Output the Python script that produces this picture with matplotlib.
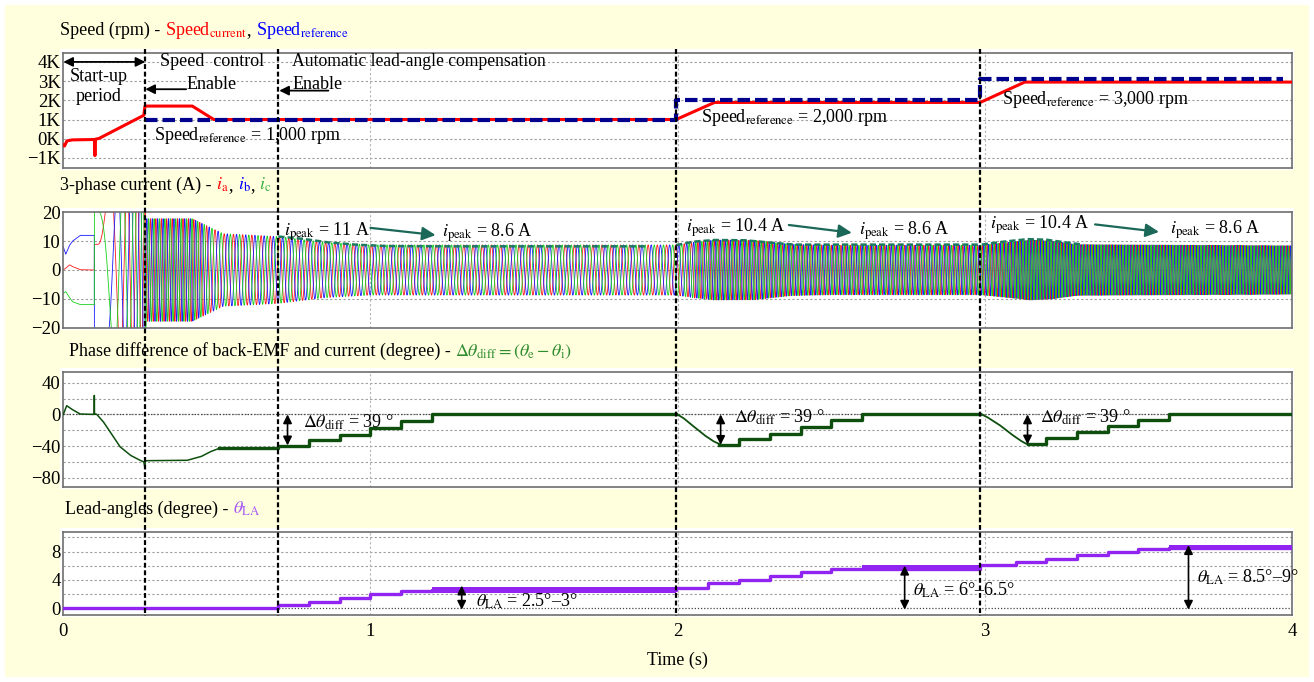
import numpy as np
import matplotlib
matplotlib.use("Agg")
import matplotlib.pyplot as plt
from matplotlib import transforms
from matplotlib.patches import Rectangle
from matplotlib.lines import Line2D

plt.rcParams["font.family"] = ["Liberation Serif", "DejaVu Serif"]
plt.rcParams["mathtext.fontset"] = "stix"
plt.rcParams["axes.unicode_minus"] = True

# ---------------- data ----------------
event_t = [0.267, 0.70, 1.995, 2.985]          # dashed event markers (s)

# speed (rpm)
speed_cur_t = [0.0, 0.004, 0.012, 0.03, 0.1025, 0.103, 0.1035, 0.117, 0.262, 0.266,
               0.42, 0.49, 1.995, 2.12, 2.985, 3.13, 4.0]
speed_cur_v = [-330, -380, -110, -60, -40, -880, -30, 20, 1220, 1700,
               1700, 1000, 1000, 1890, 1890, 2950, 2950]
speed_ref_t = [0.267, 1.995, 1.995, 2.985, 2.985, 3.97]
speed_ref_v = [1000, 1000, 2000, 2000, 3085, 3085]
speed_ticks = [-1000, 0, 1000, 2000, 3000, 4000]
speed_ticklabels = ["−1K", "0K", "1K", "2K", "3K", "4K"]

# 3-phase current (A)
pole_pairs = 2
dc_t = [0.0, 0.008, 0.02, 0.03, 0.055, 0.101]
ia_dc = [0.0, 0.6, 1.8, 1.2, 0.1, 0.0]
ib_dc = [8.0, 5.5, 8.5, 10.0, 12.0, 12.0]
ic_dc = [-8.0, -7.5, -9.5, -11.0, -12.0, -12.0]
env_t = [0.101, 0.266, 0.27, 0.42, 0.52, 0.70, 0.85, 1.0, 1.995, 2.05, 2.12,
         2.25, 2.37, 2.5, 2.985, 3.08, 3.15, 3.22, 3.30, 4.0]
env_A = [30, 30, 17.8, 17.8, 12.6, 11.6, 9.6, 8.7, 8.7, 9.6, 10.4,
         10.3, 8.9, 8.6, 8.6, 9.6, 10.4, 10.0, 8.8, 8.4]
env_dash1_t = [0.70, 0.78, 0.86, 0.95, 1.05, 1.25, 1.90]
env_dash1_v = [11.6, 10.8, 9.6, 8.8, 8.3, 8.2, 8.2]
env_dash2_t = [1.995, 2.05, 2.12, 2.22, 2.30, 2.38, 2.98]
env_dash2_v = [8.6, 9.8, 10.4, 10.3, 9.5, 8.8, 8.8]
env_dash3_t = [2.99, 3.06, 3.14, 3.20, 3.26, 3.32]
env_dash3_v = [8.8, 9.8, 10.7, 10.5, 9.6, 8.8]
cur_ticks = [-20, -10, 0, 10, 20]
cur_ticklabels = ["−20", "−10", "0", "10", "20"]

# phase difference (degree)
pd_start_t = [0.0, 0.011, 0.03, 0.055, 0.1, 0.1005, 0.101, 0.1015, 0.109, 0.131, 0.153,
              0.185, 0.22, 0.25, 0.262, 0.265, 0.268, 0.404, 0.45, 0.48, 0.507]
pd_start_v = [0.0, 11.0, 6.0, 0.5, 0.0, 0.0, 24.0, 1.0, 0.0, -9.7, -22.4,
              -41.0, -52.0, -58.0, -60.0, -66.0, -58.5, -58.0, -53.0, -47.0, -43.0]
pd_steps1_t = [0.507, 0.70, 0.80, 0.90, 1.0, 1.1, 1.2, 1.995]
pd_steps1_v = [-43.0, -39.5, -32.0, -26.0, -17.0, -8.0, 1.0]
pd_dip2_t = [1.995, 2.02, 2.05, 2.09, 2.117, 2.136]
pd_dip2_v = [1.0, -5.0, -14.6, -27.0, -34.0, -37.5]
pd_steps2_t = [2.136, 2.2, 2.3, 2.4, 2.5, 2.6, 2.985]
pd_steps2_v = [-38.5, -31.0, -25.0, -16.0, -7.0, 1.0]
pd_dip3_t = [2.985, 3.01, 3.05, 3.09, 3.12, 3.139]
pd_dip3_v = [1.0, -4.0, -14.0, -26.0, -34.0, -38.0]
pd_steps3_t = [3.139, 3.2, 3.3, 3.4, 3.5, 3.6, 4.0]
pd_steps3_v = [-38.0, -30.0, -22.0, -14.5, -6.7, 0.5]
pd_ticks = [-80, -40, 0, 40]
pd_ticklabels = ["−80", "−40", "0", "40"]

# lead angle (degree)
la_t = [0, 0.70, 0.80, 0.90, 1.0, 1.1, 1.2, 1.995, 2.1, 2.2, 2.3, 2.4, 2.5, 2.6,
        2.985, 3.1, 3.2, 3.3, 3.4, 3.5, 3.6, 4.0]
la_v = [0, 0.4, 0.9, 1.5, 1.95, 2.4, 2.6, 2.9, 3.5, 4.0, 4.5, 5.1, 5.5, 5.6,
        6.05, 6.5, 7.0, 7.5, 7.95, 8.35, 8.5]
la_band_t0 = [1.2, 2.6, 3.6]
la_band_t1 = [1.995, 2.985, 4.0]
la_band_lo = [2.2, 5.2, 8.15]
la_band_hi = [3.0, 6.05, 8.9]
la_ticks = [0, 4, 8]
la_ticklabels = ["0", "4", "8"]

time_ticks = [0, 1, 2, 3, 4]

# ---------------- figure ----------------
W, H, DPI = 1314, 682, 100
FS = 13        # annotation / tick size
fig = plt.figure(figsize=(W / DPI, H / DPI), dpi=DPI)
fig.patch.set_facecolor("white")
fig.add_artist(Rectangle((5 / W, 5 / H), (W - 10) / W, (H - 10) / H,
                         transform=fig.transFigure, fc="#FFFFDE", ec="none", zorder=-10))


def px_axes(left, top, right, bottom):
    fig.add_artist(Rectangle(((left - 3) / W, 1 - (bottom + 2) / H), (right - left + 5) / W,
                             (bottom - top + 6) / H, transform=fig.transFigure,
                             fc="white", ec="none", zorder=-5))
    return fig.add_axes([left / W, 1 - bottom / H, (right - left) / W, (bottom - top) / H])


ax1 = px_axes(63.3, 52.7, 1292, 168.3)
ax2 = px_axes(63.3, 212.3, 1292, 327.7)
ax3 = px_axes(63.3, 371.7, 1292, 486.7)
ax4 = px_axes(63.3, 531.7, 1292, 615)

GRID = dict(color="#9c9c9c", lw=0.8, ls=(0, (2, 2)), zorder=0.5)


def style(ax, ylim, ticks, labels, grid_y):
    ax.set_xlim(0, 4)
    ax.set_ylim(*ylim)
    ax.set_xticks(time_ticks)
    ax.set_yticks(ticks)
    ax.set_yticklabels(labels)
    ax.tick_params(length=0, labelsize=FS + 0.5, pad=2)
    ax.tick_params(axis="x", pad=6)
    for y in grid_y:
        ax.axhline(y, **GRID)
    for x in time_ticks[1:-1]:
        ax.axvline(x, color="#b4b4b4", lw=0.8, ls=(0, (2, 2)), zorder=0.5)
    for sp in ax.spines.values():
        sp.set_color("#6e6e6e")
        sp.set_linewidth(1.2)


style(ax1, (-1540, 4480), speed_ticks, speed_ticklabels, speed_ticks)
style(ax2, (-20, 20), cur_ticks, cur_ticklabels, [-10, 0, 10])
style(ax3, (-91.4, 54), pd_ticks, pd_ticklabels, [40, 20, 0, -20, -40, -60, -80])
style(ax4, (-0.95, 10.8), la_ticks, la_ticklabels, [2, 4, 6, 8, 10])
for ax in (ax1, ax2, ax3):
    ax.tick_params(labelbottom=False)
ax3.axhline(0, color="#444444", lw=0.9, ls=(0, (1, 1.5)), zorder=0.6)
ax4.axhline(0, color="#444444", lw=0.9, ls=(0, (1, 1.5)), zorder=0.6)

# ---- panel 1: speed ----
ax1.plot(speed_cur_t, speed_cur_v, color="#FF0000", lw=2.2, zorder=3)
ax1.plot(speed_ref_t, speed_ref_v, color="#00008F", lw=3.0, ls=(0, (3, 1.2)), zorder=4)
ax1.annotate("", xy=(0.0, 4000), xytext=(event_t[0], 4000),
             arrowprops=dict(arrowstyle="<|-|>", color="black", lw=1.3,
                             mutation_scale=14, shrinkA=0, shrinkB=0))
ax1.text(0.116, 3234, "Start-up", ha="center", va="center", fontsize=FS)
ax1.text(0.116, 2193, "period", ha="center", va="center", fontsize=FS)
ax1.text(0.483, 4016, "Speed  control", ha="center", va="center", fontsize=FS)
ax1.text(0.483, 2800, "Enable", ha="center", va="center", fontsize=FS)
ax1.annotate("", xy=(event_t[0], 2578), xytext=(0.40, 2578),
             arrowprops=dict(arrowstyle="-|>", color="black", lw=1.3,
                             mutation_scale=14, shrinkA=0, shrinkB=0))
ax1.text(0.745, 4016, "Automatic lead-angle compensation", ha="left", va="center", fontsize=FS - 0.3)
ax1.text(0.745, 2838, "Enable", ha="left", va="center", fontsize=FS)
ax1.annotate("", xy=(0.703, 2505), xytext=(0.863, 2505),
             arrowprops=dict(arrowstyle="-|>", color="black", lw=1.3,
                             mutation_scale=14, shrinkA=0, shrinkB=0))
ax1.text(0.296, 190, "Speed$_{\\mathrm{reference}}$ = 1,000 rpm", ha="left", va="center", fontsize=FS)
ax1.text(2.076, 1120, "Speed$_{\\mathrm{reference}}$ = 2,000 rpm", ha="left", va="center", fontsize=FS)
ax1.text(3.056, 2057, "Speed$_{\\mathrm{reference}}$ = 3,000 rpm", ha="left", va="center", fontsize=FS)

# ---- panel 2: 3-phase current ----
t = np.arange(0.0, 4.0, 1e-4)
freq = np.clip(np.interp(t, speed_cur_t, speed_cur_v), 0, None) / 60.0 * pole_pairs
phase = 2 * np.pi * np.cumsum(freq) * 1e-4
amp = np.interp(t, env_t, env_A)
osc = t >= dc_t[-1]
cur_colors = ["#FF1A1A", "#1A1AFF", "#19D119"]
for k, (dc, col) in enumerate(zip([ia_dc, ib_dc, ic_dc], cur_colors)):
    wave = np.where(osc, amp * np.sin(phase + 0.3 - 2 * np.pi * k / 3),
                    np.interp(t, dc_t, dc))
    ax2.plot(t, wave, color=col, lw=0.6, zorder=2 + k * 0.1)
for et, ev in ((env_dash1_t, env_dash1_v), (env_dash2_t, env_dash2_v), (env_dash3_t, env_dash3_v)):
    ax2.plot(et, ev, color="#1E7A5E", lw=1.8, ls=(0, (2.5, 1.2)), zorder=4)

TEAL = dict(arrowstyle="-|>", color="#1C6858", lw=1.6, mutation_scale=20, shrinkA=0, shrinkB=0)
ip = "$i_{\\mathrm{peak}}$"
ax2.text(0.719, 13.2, ip + " = 11 A", ha="left", va="center", fontsize=FS, zorder=6)
ax2.annotate("", xy=(1.212, 12.1), xytext=(1.0, 14.6), arrowprops=TEAL)
ax2.text(1.233, 12.9, ip + " = 8.6 A", ha="left", va="center", fontsize=FS, zorder=6)
ax2.text(2.027, 14.8, ip + " = 10.4 A", ha="left", va="center", fontsize=FS, zorder=6)
ax2.annotate("", xy=(2.567, 12.9), xytext=(2.362, 15.6), arrowprops=TEAL)
ax2.text(2.591, 13.6, ip + " = 8.6 A", ha="left", va="center", fontsize=FS, zorder=6)
ax2.text(3.017, 15.8, ip + " = 10.4 A", ha="left", va="center", fontsize=FS, zorder=6)
ax2.annotate("", xy=(3.567, 13.2), xytext=(3.359, 15.8), arrowprops=TEAL)
ax2.text(3.602, 13.8, ip + " = 8.6 A", ha="left", va="center", fontsize=FS, zorder=6)

# ---- panel 3: phase difference ----
PD = "#0E4F0E"
ax3.plot(pd_start_t, pd_start_v, color=PD, lw=1.1, zorder=3)
for st, sv in ((pd_steps1_t, pd_steps1_v), (pd_steps2_t, pd_steps2_v), (pd_steps3_t, pd_steps3_v)):
    ax3.plot(st, list(sv) + [sv[-1]], color=PD, lw=2.4, drawstyle="steps-post", zorder=3)
for dt_, dv in ((pd_dip2_t, pd_dip2_v), (pd_dip3_t, pd_dip3_v)):
    ax3.plot(dt_, dv, color=PD, lw=1.3, zorder=3)
DARROW = dict(arrowstyle="<|-|>", color="black", lw=1.2, mutation_scale=13, shrinkA=0, shrinkB=0)
dd = "$\\Delta\\theta_{\\mathrm{diff}}$ = 39 °"
ax3.annotate("", xy=(0.730, 0), xytext=(0.730, -39.2), arrowprops=DARROW)
ax3.text(0.781, -9.7, dd, ha="left", va="center", fontsize=FS, zorder=6)
ax3.annotate("", xy=(2.140, 0), xytext=(2.140, -38.5), arrowprops=DARROW)
ax3.text(2.184, -4.2, dd, ha="left", va="center", fontsize=FS, zorder=6)
ax3.annotate("", xy=(3.139, 0), xytext=(3.139, -38.0), arrowprops=DARROW)
ax3.text(3.181, -4.2, dd, ha="left", va="center", fontsize=FS, zorder=6)

# ---- panel 4: lead angle ----
LA = "#9124F0"
ax4.plot(la_t, list(la_v) + [la_v[-1]], color=LA, lw=2.4, drawstyle="steps-post", zorder=3)
for t0, t1, lo, hi in zip(la_band_t0, la_band_t1, la_band_lo, la_band_hi):
    ax4.fill_between([t0, t1], [lo, lo], [hi, hi], color=LA, lw=0, zorder=3)
lt = "$\\theta_{\\mathrm{LA}}$"
ax4.annotate("", xy=(1.297, 3.2), xytext=(1.297, -0.2), arrowprops=DARROW)
ax4.text(1.342, 0.94, lt + " = 2.5°–3°", ha="left", va="center", fontsize=FS, zorder=6)
ax4.annotate("", xy=(2.739, 6.0), xytext=(2.739, -0.2), arrowprops=DARROW)
ax4.text(2.766, 2.6, lt + " = 6°–6.5°", ha="left", va="center", fontsize=FS, zorder=6)
ax4.annotate("", xy=(3.663, 8.9), xytext=(3.663, -0.2), arrowprops=DARROW)
ax4.text(3.690, 4.33, lt + " = 8.5°–9°", ha="left", va="center", fontsize=FS, zorder=6)
ax4.set_xticklabels([str(v) for v in time_ticks])
fig.text(677.6 / W, 1 - 660 / H, "Time (s)", ha="center", va="center", fontsize=FS)

# ---- dashed event lines across all panels ----
blend = transforms.blended_transform_factory(ax1.transData, fig.transFigure)
for te in event_t:
    fig.add_artist(Line2D([te, te], [1 - 49 / H, 1 - 616 / H], transform=blend,
                          color="black", lw=1.6, ls=(0, (2.2, 1.2)), zorder=20))

# ---- panel titles with coloured parts ----
renderer = fig.canvas.get_renderer()
SP = 4.5


def rich_text(x_px, y_px, parts, size=13):
    x = x_px
    for s, c, gap in parts:
        txt = fig.text(x / W, 1 - y_px / H, s, color=c, fontsize=size, ha="left", va="baseline")
        x += txt.get_window_extent(renderer=renderer).width + gap


rich_text(60, 35, [("Speed (rpm) -", "black", SP), ("Speed$_{\\mathrm{current}}$", "#FF0000", 0),
                   (",", "black", SP), ("Speed$_{\\mathrm{reference}}$", "#0000FF", 0)])
rich_text(60, 190, [("3-phase current (A) -", "black", SP), ("$i_{\\mathrm{a}}$", "#FF0000", 0),
                    (",", "black", SP), ("$i_{\\mathrm{b}}$", "#0000FF", 0),
                    (",", "black", SP), ("$i_{\\mathrm{c}}$", "#3CB043", 0)])
rich_text(69, 356, [("Phase difference of back-EMF and current (degree) -", "black", SP),
                    ("$\\Delta\\theta_{\\mathrm{diff}} = (\\theta_{\\mathrm{e}} - \\theta_{\\mathrm{i}})$", "#2E8B2E", 0)])
rich_text(65, 514, [("Lead-angles (degree) -", "black", SP), ("$\\theta_{\\mathrm{LA}}$", "#A855F7", 0)])

fig.savefig("out.png", dpi=DPI, facecolor=fig.get_facecolor())
